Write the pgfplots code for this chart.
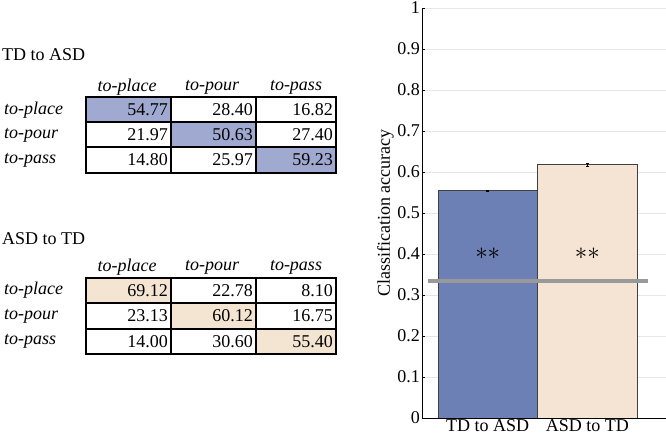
\documentclass[border=0pt]{standalone}
\usepackage{pgfplots}
\pgfplotsset{compat=1.18}
\usepackage{fontspec}
\setmainfont{Liberation Serif}
\definecolor{barblue}{RGB}{108,128,182}
\definecolor{tblue}{RGB}{160,170,208}
\definecolor{peach}{RGB}{245,228,212}
\definecolor{tpeach}{RGB}{244,228,210}
\definecolor{gridc}{RGB}{230,230,230}
\definecolor{chance}{RGB}{153,153,153}
\newcommand{\fs}{\fontsize{18}{21}\selectfont}
\begin{document}
\begin{tikzpicture}[x=1pt,y=1pt]
\useasboundingbox (0,0) rectangle (666,438);
\begin{scope}[yshift=438pt,yscale=-1,font=\fs]
% ---------- table 1 ----------
\node[anchor=base west,inner sep=0] at (2,61) {TD to ASD};
\node at (127,87) {\itshape to-place};
\node at (212,87) {\itshape to-pour};
\node at (296,87) {\itshape to-pass};
\fill[tblue] (86,97) rectangle (171,122);
\fill[tblue] (171,122) rectangle (256,147);
\fill[tblue] (256,147) rectangle (336,173);
\draw[line width=1.4pt] (86,97) rectangle (336,173);
\draw[line width=1.4pt] (86,122) -- (336,122) (86,147) -- (336,147) (171,97) -- (171,173) (256,97) -- (256,173);
\node[anchor=west,inner sep=0] at (4,110) {\itshape to-place};
\node[anchor=west,inner sep=0] at (4,135) {\itshape to-pour};
\node[anchor=west,inner sep=0] at (4,160) {\itshape to-pass};
\node[anchor=east,inner sep=0] at (168,110) {54.77};
\node[anchor=east,inner sep=0] at (253,110) {28.40};
\node[anchor=east,inner sep=0] at (333,110) {16.82};
\node[anchor=east,inner sep=0] at (168,135) {21.97};
\node[anchor=east,inner sep=0] at (253,135) {50.63};
\node[anchor=east,inner sep=0] at (333,135) {27.40};
\node[anchor=east,inner sep=0] at (168,160) {14.80};
\node[anchor=east,inner sep=0] at (253,160) {25.97};
\node[anchor=east,inner sep=0] at (333,160) {59.23};
% ---------- table 2 ----------
\node[anchor=base west,inner sep=0] at (2,245) {ASD to TD};
\node at (127,267) {\itshape to-place};
\node at (212,267) {\itshape to-pour};
\node at (296,267) {\itshape to-pass};
\fill[tpeach] (86,278) rectangle (171,303);
\fill[tpeach] (171,303) rectangle (256,329);
\fill[tpeach] (256,329) rectangle (336,354);
\draw[line width=1.4pt] (86,278) rectangle (336,354);
\draw[line width=1.4pt] (86,303) -- (336,303) (86,329) -- (336,329) (171,278) -- (171,354) (256,278) -- (256,354);
\node[anchor=west,inner sep=0] at (4,290.5) {\itshape to-place};
\node[anchor=west,inner sep=0] at (4,316) {\itshape to-pour};
\node[anchor=west,inner sep=0] at (4,341.5) {\itshape to-pass};
\node[anchor=east,inner sep=0] at (168,290.5) {69.12};
\node[anchor=east,inner sep=0] at (253,290.5) {22.78};
\node[anchor=east,inner sep=0] at (333,290.5) {8.10};
\node[anchor=east,inner sep=0] at (168,316) {23.13};
\node[anchor=east,inner sep=0] at (253,316) {60.12};
\node[anchor=east,inner sep=0] at (333,316) {16.75};
\node[anchor=east,inner sep=0] at (168,341.5) {14.00};
\node[anchor=east,inner sep=0] at (253,341.5) {30.60};
\node[anchor=east,inner sep=0] at (333,341.5) {55.40};
\end{scope}
% ---------- bar chart ----------
\begin{axis}[
  at={(422pt,20pt)}, anchor=south west,
  width=244pt, height=410pt, scale only axis,
  xmin=0.34, xmax=2.79, ymin=0, ymax=1,
  axis lines*=left,
  axis line style={black, line width=0.8pt},
  xtick={1,2}, xticklabels={TD to ASD, ASD to TD},
  ytick={0,0.1,0.2,0.3,0.4,0.5,0.6,0.7,0.8,0.9,1},
  yticklabels={0,0.1,0.2,0.3,0.4,0.5,0.6,0.7,0.8,0.9,1},
  x tick style={draw=none},
  y tick style={black, line width=0.6pt},
  tick align=inside, major tick length=3pt,
  ymajorgrids, grid style={gridc, line width=0.8pt},
  tick label style={font=\fs},
  yticklabel style={inner sep=2pt},
  xticklabel style={inner sep=1pt},
  /pgf/number format/assume math mode=true,
  ylabel={Classification accuracy},
  ylabel style={font=\fs, yshift=-2pt},
]
\addplot[ybar, bar width=1, bar shift=0pt, fill=barblue, draw=black!75, line width=0.6pt,
  error bars/.cd, y dir=both, y explicit,
  error bar style={black, line width=0.6pt},
  error mark options={rotate=90, mark size=1.5pt, black, line width=0.6pt}]
  coordinates {(1,0.555) +- (0,0.001)};
\addplot[ybar, bar width=1, bar shift=0pt, fill=peach, draw=black!75, line width=0.6pt,
  error bars/.cd, y dir=both, y explicit,
  error bar style={black, line width=0.6pt},
  error mark options={rotate=90, mark size=1.5pt, black, line width=0.6pt}]
  coordinates {(2,0.618) +- (0,0.004)};
\addplot[chance, line width=4pt] coordinates {(0.40,0.333) (2.61,0.333)};
\node[font=\fontsize{26}{26}\selectfont] at (axis cs:1,0.40) {$\ast\ast$};
\node[font=\fontsize{26}{26}\selectfont] at (axis cs:2,0.40) {$\ast\ast$};
\end{axis}
\end{tikzpicture}
\end{document}
